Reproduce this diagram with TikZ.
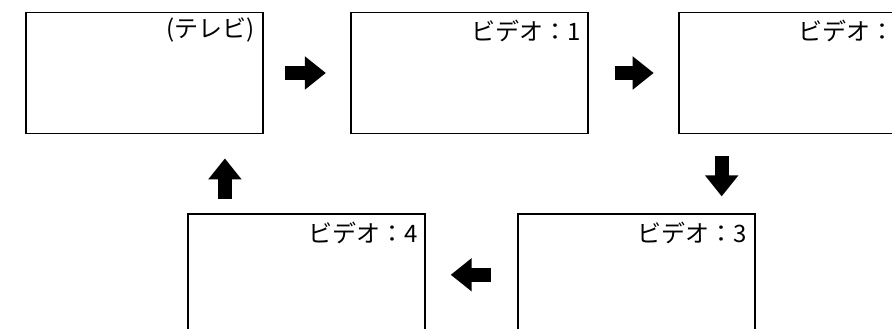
\documentclass[tikz,border=0pt]{standalone}
\usepackage{fontspec}
\usepackage{tikz}
\usetikzlibrary{positioning, arrows.meta}
\newfontfamily\jpfont{Noto Sans CJK JP}

\tikzset{
  screen/.style={draw, line width=1.8pt, minimum width=237pt, minimum height=121pt},
  tag/.style={font=\jpfont\fontsize{24pt}{24pt}\selectfont, inner sep=0pt, anchor=north east},
  flow/.style={line width=14pt, -{Triangle[length=21pt,width=32pt]}}
}

\begin{document}
\begin{tikzpicture}[x=1pt, y=1pt]
  \useasboundingbox (0,0) rectangle (892,329);
  \clip (0,0) rectangle (892,329);
  % top row
  \node[screen] (tv) at (144.5,256) {};
  \node[screen, right=86pt of tv] (v1) {};
  \node[screen, right=89pt of v1] (v2) {};
  % bottom row
  \node[screen, below=79pt of v2, xshift=-161pt] (v3) {};
  \node[screen, left=91pt of v3] (v4) {};
  % labels
  \node[tag] (tvlabel) at ([xshift=-9pt, yshift=-6pt]tv.north east) {(テレビ)};
  \node[tag] (v1label) at ([xshift=-8pt, yshift=-8pt]v1.north east) {ビデオ：1};
  \node[tag] (v2label) at ([xshift=-8pt, yshift=-8pt]v2.north east) {ビデオ：2};
  \node[tag] (v3label) at ([xshift=-8pt, yshift=-8pt]v3.north east) {ビデオ：3};
  \node[tag] (v4label) at ([xshift=-8pt, yshift=-8pt]v4.north east) {ビデオ：4};
  % arrows
  \draw[flow, shorten <=21pt, shorten >=24pt] (tv) -- (v1);
  \draw[flow, shorten <=26pt, shorten >=24pt] (v1) -- (v2);
  \draw[flow, shorten <=22pt, shorten >=17pt] ([xshift=44pt]v2.south west) -- ([xshift=44pt]v2.south west |- v3.north);
  \draw[flow, shorten <=26pt, shorten >=25pt] (v3) -- (v4);
  \draw[flow, shorten <=14pt, shorten >=24pt] ([xshift=38pt]v4.north west) -- ([xshift=38pt]v4.north west |- tv.south);
\end{tikzpicture}
\end{document}
